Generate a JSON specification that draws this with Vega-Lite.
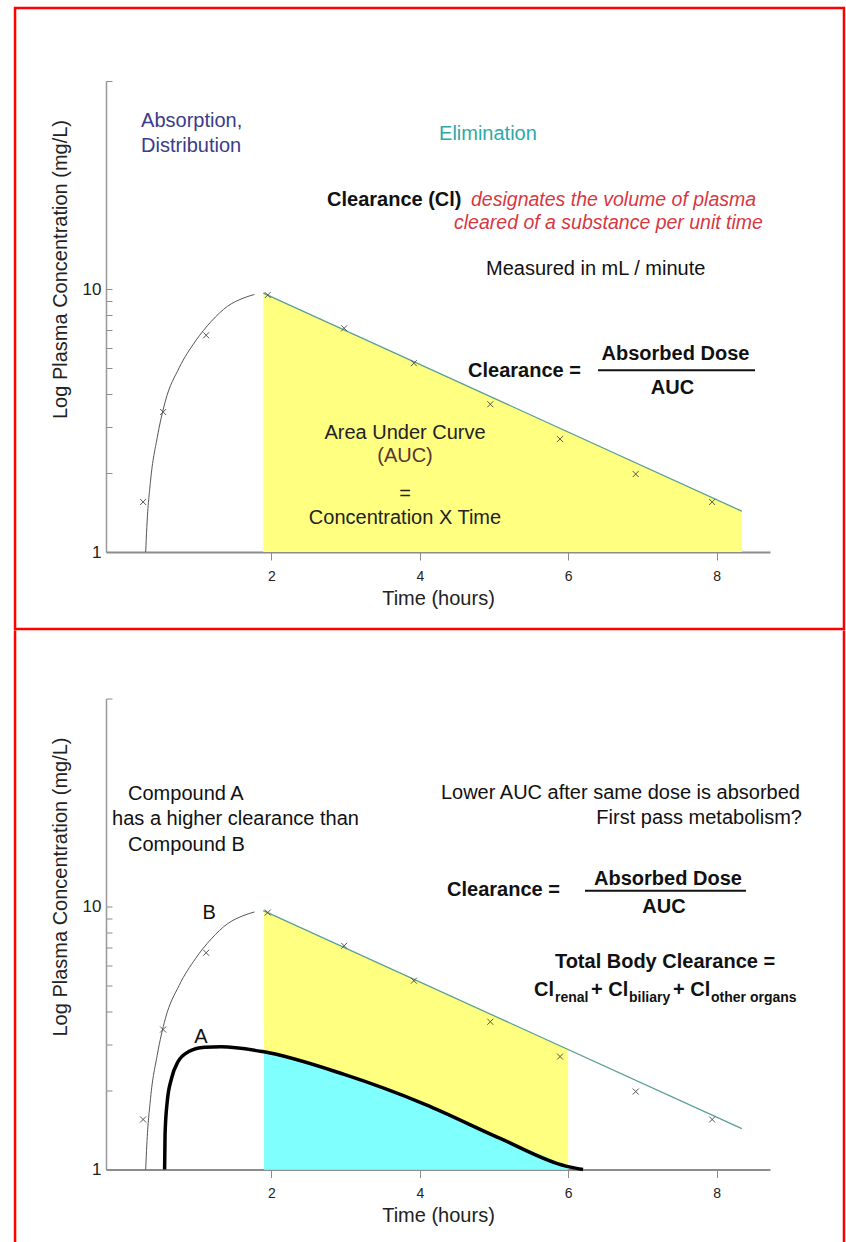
{
  "$schema": "https://vega.github.io/schema/vega-lite/v6.json",
  "background": "white",
  "padding": {"left": 13, "top": 6, "right": 0, "bottom": 0},
  "autosize": {"type": "pad"},
  "spacing": -2.5,
  "config": {
    "view": {"stroke": null},
    "font": "Liberation Sans",
    "axis": {
      "labelFont": "Liberation Sans",
      "titleFont": "Liberation Sans",
      "titleFontWeight": "normal",
      "labelColor": "#222",
      "titleColor": "#222",
      "domainColor": "#8c8c8c",
      "tickColor": "#8c8c8c",
      "grid": false,
      "zindex": 1
    }
  },
  "datasets": {
    "curveB": [
      {"t": 0.305, "c": 1.0}, {"t": 0.32, "c": 1.24}, {"t": 0.37, "c": 1.86},
      {"t": 0.46, "c": 2.72}, {"t": 0.57, "c": 3.75}, {"t": 0.756, "c": 5.02},
      {"t": 0.975, "c": 6.34}, {"t": 1.19, "c": 7.55}, {"t": 1.41, "c": 8.62},
      {"t": 1.63, "c": 9.27}, {"t": 1.77, "c": 9.55}
    ],
    "elimB": [{"t": 1.89, "c": 9.66}, {"t": 8.34, "c": 1.43}],
    "aucB": [{"t": 1.9, "c": 9.63}, {"t": 6.0, "c": 2.86}],
    "marksB": [
      {"t": 0.27, "c": 1.55}, {"t": 0.54, "c": 3.41}, {"t": 1.12, "c": 6.68},
      {"t": 1.95, "c": 9.5}, {"t": 2.98, "c": 7.1}, {"t": 3.92, "c": 5.23},
      {"t": 4.95, "c": 3.65}, {"t": 5.89, "c": 2.69}, {"t": 6.91, "c": 1.98},
      {"t": 7.94, "c": 1.55}
    ],
    "curveA": [
      {"t": 0.56, "c": 1.0}, {"t": 0.566, "c": 1.36}, {"t": 0.595, "c": 1.81},
      {"t": 0.653, "c": 2.22}, {"t": 0.74, "c": 2.57}, {"t": 0.886, "c": 2.81},
      {"t": 1.1, "c": 2.92}, {"t": 1.32, "c": 2.93}, {"t": 1.88, "c": 2.81},
      {"t": 2.98, "c": 2.3}, {"t": 4.07, "c": 1.77}, {"t": 5.09, "c": 1.31},
      {"t": 5.97, "c": 1.03}, {"t": 6.2, "c": 1.0}
    ],
    "aucA": [
      {"t": 1.9, "c": 2.8}, {"t": 2.98, "c": 2.3}, {"t": 4.07, "c": 1.77},
      {"t": 5.09, "c": 1.31}, {"t": 5.97, "c": 1.03}, {"t": 6.0, "c": 1.02}
    ],
    "notesTop": [
      {"t": 0.243, "c": 43.5, "text": "Absorption,", "role": "phaseA"},
      {"t": 0.243, "c": 35.0, "text": "Distribution", "role": "phaseA"},
      {"t": 4.259, "c": 38.9, "text": "Elimination", "role": "phaseE"},
      {"t": 2.749, "c": 21.8, "text": "Clearance (Cl)", "role": "term"},
      {"t": 4.69, "c": 21.8, "text": "designates the volume of plasma", "role": "definition"},
      {"t": 4.461, "c": 17.8, "text": "cleared of a substance per unit time", "role": "definition"},
      {"t": 4.892, "c": 11.9, "text": "Measured in  mL / minute", "role": "note"},
      {"t": 4.65, "c": 4.88, "text": "Clearance =", "role": "term"},
      {"t": 7.446, "c": 5.66, "text": "Absorbed Dose", "role": "formula"},
      {"t": 7.406, "c": 4.2, "text": "AUC", "role": "formula"},
      {"t": 3.8, "c": 2.835, "text": "Area Under Curve", "role": "area"},
      {"t": 3.8, "c": 2.317, "text": "(AUC)", "role": "areaAbbr"},
      {"t": 3.8, "c": 1.662, "text": "=", "role": "area"},
      {"t": 3.8, "c": 1.347, "text": "Concentration X Time", "role": "area"}
    ],
    "notesBottom": [
      {"t": 0.067, "c": 26.9, "text": "Compound A", "role": "note"},
      {"t": -0.148, "c": 21.6, "text": "has a higher clearance than", "role": "note"},
      {"t": 0.067, "c": 17.2, "text": "Compound B", "role": "note"},
      {"t": 9.124, "c": 27.1, "text": "Lower AUC after same dose is absorbed", "role": "noteR"},
      {"t": 9.151, "c": 21.8, "text": "First pass metabolism?", "role": "noteR"},
      {"t": 4.367, "c": 11.6, "text": "Clearance =", "role": "term"},
      {"t": 7.345, "c": 12.8, "text": "Absorbed Dose", "role": "formula"},
      {"t": 7.291, "c": 10.0, "text": "AUC", "role": "formula"},
      {"t": 7.305, "c": 6.18, "text": "Total Body Clearance =", "role": "formula"},
      {"t": 5.539, "c": 4.84, "text": "Cl", "role": "term"},
      {"t": 5.822, "c": 4.51, "text": "renal", "role": "sub"},
      {"t": 6.307, "c": 4.84, "text": "+ Cl", "role": "term"},
      {"t": 6.819, "c": 4.51, "text": "biliary", "role": "sub"},
      {"t": 7.412, "c": 4.84, "text": "+ Cl", "role": "term"},
      {"t": 7.925, "c": 4.51, "text": "other organs", "role": "sub"},
      {"t": 1.159, "c": 9.49, "text": "B", "role": "curve"},
      {"t": 1.051, "c": 3.2, "text": "A", "role": "curve"}
    ]
  },
  "vconcat": [
    {
      "width": 664,
      "height": 471,
      "layer": [
        {
          "data": {"name": "elimB"},
          "mark": {"type": "area", "color": "#ffff80", "opacity": 1},
          "encoding": {
            "x": {"field": "t", "type": "quantitative", "scale": {"domain": [-0.23, 8.72], "nice": false, "zero": false},
                  "axis": {"values": [2, 4, 6, 8], "format": "d", "title": "Time (hours)", "titleFontSize": 20, "titlePadding": 5, "labelFontSize": 14, "tickSize": 8, "labelPadding": 9, "domainWidth": 2, "labelOverlap": false}},
            "y": {"field": "c", "type": "quantitative", "scale": {"type": "log", "domain": [1, 62], "nice": false},
                  "axis": {"values": [1, 2, 3, 4, 5, 6, 7, 8, 9, 10, 62], "format": "~g", "labelExpr": "datum.value == 1 || datum.value == 10 ? datum.label : ''", "labelOverlap": false, "title": "Log Plasma Concentration (mg/L)", "titleFontSize": 20, "titlePadding": 12, "titleY": 188, "labelFontSize": 17, "tickSize": -6, "labelPadding": 11, "domainWidth": 1.5, "domainColor": "#999"}},
            "y2": {"datum": 1}
          }
        },
        {
          "data": {"name": "curveB"},
          "mark": {"type": "line", "interpolate": "monotone", "color": "#555", "strokeWidth": 1},
          "encoding": {
            "x": {"field": "t", "type": "quantitative", "scale": {"domain": [-0.23, 8.72], "nice": false, "zero": false}},
            "y": {"field": "c", "type": "quantitative", "scale": {"type": "log", "domain": [1, 62], "nice": false}}
          }
        },
        {
          "data": {"name": "elimB"},
          "mark": {"type": "line", "color": "#5a9f96", "strokeWidth": 1.3},
          "encoding": {
            "x": {"field": "t", "type": "quantitative", "scale": {"domain": [-0.23, 8.72], "nice": false, "zero": false}},
            "y": {"field": "c", "type": "quantitative", "scale": {"type": "log", "domain": [1, 62], "nice": false}}
          }
        },
        {
          "data": {"name": "marksB"},
          "mark": {"type": "point", "shape": "M-1,-1L1,1M-1,1L1,-1", "size": 36, "filled": false, "color": "#555", "strokeWidth": 1, "opacity": 1},
          "encoding": {
            "x": {"field": "t", "type": "quantitative", "scale": {"domain": [-0.23, 8.72], "nice": false, "zero": false}},
            "y": {"field": "c", "type": "quantitative", "scale": {"type": "log", "domain": [1, 62], "nice": false}}
          }
        },
        {
          "data": {"name": "notesTop"},
          "transform": [{"filter": "datum.role === 'phaseA'"}],
          "mark": {"type": "text", "align": "left", "baseline": "middle", "fontSize": 20, "color": "#3b3b8a"},
          "encoding": {
            "x": {"field": "t", "type": "quantitative", "scale": {"domain": [-0.23, 8.72], "nice": false, "zero": false}},
            "y": {"field": "c", "type": "quantitative", "scale": {"type": "log", "domain": [1, 62], "nice": false}},
            "text": {"field": "text"}
          }
        },
        {
          "data": {"name": "notesTop"},
          "transform": [{"filter": "datum.role === 'phaseE'"}],
          "mark": {"type": "text", "align": "left", "baseline": "middle", "fontSize": 20, "color": "#2fa8a8"},
          "encoding": {
            "x": {"field": "t", "type": "quantitative", "scale": {"domain": [-0.23, 8.72], "nice": false, "zero": false}},
            "y": {"field": "c", "type": "quantitative", "scale": {"type": "log", "domain": [1, 62], "nice": false}},
            "text": {"field": "text"}
          }
        },
        {
          "data": {"name": "notesTop"},
          "transform": [{"filter": "datum.role === 'term'"}],
          "mark": {"type": "text", "align": "left", "baseline": "middle", "fontSize": 20, "fontWeight": "bold", "color": "#111"},
          "encoding": {
            "x": {"field": "t", "type": "quantitative", "scale": {"domain": [-0.23, 8.72], "nice": false, "zero": false}},
            "y": {"field": "c", "type": "quantitative", "scale": {"type": "log", "domain": [1, 62], "nice": false}},
            "text": {"field": "text"}
          }
        },
        {
          "data": {"name": "notesTop"},
          "transform": [{"filter": "datum.role === 'definition'"}],
          "mark": {"type": "text", "align": "left", "baseline": "middle", "fontSize": 19.5, "fontStyle": "italic", "color": "#d8383f"},
          "encoding": {
            "x": {"field": "t", "type": "quantitative", "scale": {"domain": [-0.23, 8.72], "nice": false, "zero": false}},
            "y": {"field": "c", "type": "quantitative", "scale": {"type": "log", "domain": [1, 62], "nice": false}},
            "text": {"field": "text"}
          }
        },
        {
          "data": {"name": "notesTop"},
          "transform": [{"filter": "datum.role === 'note'"}],
          "mark": {"type": "text", "align": "left", "baseline": "middle", "fontSize": 20, "color": "#111"},
          "encoding": {
            "x": {"field": "t", "type": "quantitative", "scale": {"domain": [-0.23, 8.72], "nice": false, "zero": false}},
            "y": {"field": "c", "type": "quantitative", "scale": {"type": "log", "domain": [1, 62], "nice": false}},
            "text": {"field": "text"}
          }
        },
        {
          "data": {"name": "notesTop"},
          "transform": [{"filter": "datum.role === 'formula'"}],
          "mark": {"type": "text", "align": "center", "baseline": "middle", "fontSize": 20, "fontWeight": "bold", "color": "#111"},
          "encoding": {
            "x": {"field": "t", "type": "quantitative", "scale": {"domain": [-0.23, 8.72], "nice": false, "zero": false}},
            "y": {"field": "c", "type": "quantitative", "scale": {"type": "log", "domain": [1, 62], "nice": false}},
            "text": {"field": "text"}
          }
        },
        {
          "data": {"name": "notesTop"},
          "transform": [{"filter": "datum.role === 'area'"}],
          "mark": {"type": "text", "align": "center", "baseline": "middle", "fontSize": 20, "color": "#222"},
          "encoding": {
            "x": {"field": "t", "type": "quantitative", "scale": {"domain": [-0.23, 8.72], "nice": false, "zero": false}},
            "y": {"field": "c", "type": "quantitative", "scale": {"type": "log", "domain": [1, 62], "nice": false}},
            "text": {"field": "text"}
          }
        },
        {
          "data": {"name": "notesTop"},
          "transform": [{"filter": "datum.role === 'areaAbbr'"}],
          "mark": {"type": "text", "align": "center", "baseline": "middle", "fontSize": 20, "color": "#5a3434"},
          "encoding": {
            "x": {"field": "t", "type": "quantitative", "scale": {"domain": [-0.23, 8.72], "nice": false, "zero": false}},
            "y": {"field": "c", "type": "quantitative", "scale": {"type": "log", "domain": [1, 62], "nice": false}},
            "text": {"field": "text"}
          }
        },
        {
          "data": {"values": [{}]},
          "mark": {"type": "rule", "color": "#111", "strokeWidth": 2},
          "encoding": {
            "x": {"datum": 6.402, "type": "quantitative", "scale": {"domain": [-0.23, 8.72], "nice": false, "zero": false}},
            "x2": {"datum": 8.518},
            "y": {"datum": 4.92, "type": "quantitative", "scale": {"type": "log", "domain": [1, 62], "nice": false}}
          }
        },
        {
          "data": {"values": [{}]},
          "mark": {"type": "rect", "filled": false, "color": "#ff0000", "strokeWidth": 2.5},
          "encoding": {
            "x": {"datum": -1.456, "type": "quantitative", "scale": {"domain": [-0.23, 8.72], "nice": false, "zero": false}},
            "x2": {"datum": 9.717},
            "y": {"datum": 117.5, "type": "quantitative", "scale": {"type": "log", "domain": [1, 62], "nice": false}},
            "y2": {"datum": 0.5094}
          }
        }
      ]
    },
    {
      "width": 664,
      "height": 471,
      "layer": [
        {
          "data": {"name": "aucB"},
          "mark": {"type": "area", "color": "#ffff80", "opacity": 1},
          "encoding": {
            "x": {"field": "t", "type": "quantitative", "scale": {"domain": [-0.23, 8.72], "nice": false, "zero": false},
                  "axis": {"values": [2, 4, 6, 8], "format": "d", "title": "Time (hours)", "titleFontSize": 20, "titlePadding": 5, "labelFontSize": 14, "tickSize": 8, "labelPadding": 9, "domainWidth": 2, "labelOverlap": false}},
            "y": {"field": "c", "type": "quantitative", "scale": {"type": "log", "domain": [1, 62], "nice": false},
                  "axis": {"values": [1, 2, 3, 4, 5, 6, 7, 8, 9, 10, 62], "format": "~g", "labelExpr": "datum.value == 1 || datum.value == 10 ? datum.label : ''", "labelOverlap": false, "title": "Log Plasma Concentration (mg/L)", "titleFontSize": 20, "titlePadding": 12, "titleY": 188, "labelFontSize": 17, "tickSize": -6, "labelPadding": 11, "domainWidth": 1.5, "domainColor": "#999"}},
            "y2": {"datum": 1}
          }
        },
        {
          "data": {"name": "aucA"},
          "mark": {"type": "area", "interpolate": "monotone", "color": "#80ffff", "opacity": 1},
          "encoding": {
            "x": {"field": "t", "type": "quantitative", "scale": {"domain": [-0.23, 8.72], "nice": false, "zero": false}},
            "y": {"field": "c", "type": "quantitative", "scale": {"type": "log", "domain": [1, 62], "nice": false}},
            "y2": {"datum": 1}
          }
        },
        {
          "data": {"name": "curveB"},
          "mark": {"type": "line", "interpolate": "monotone", "color": "#555", "strokeWidth": 1},
          "encoding": {
            "x": {"field": "t", "type": "quantitative", "scale": {"domain": [-0.23, 8.72], "nice": false, "zero": false}},
            "y": {"field": "c", "type": "quantitative", "scale": {"type": "log", "domain": [1, 62], "nice": false}}
          }
        },
        {
          "data": {"name": "elimB"},
          "mark": {"type": "line", "color": "#5a9f96", "strokeWidth": 1.3},
          "encoding": {
            "x": {"field": "t", "type": "quantitative", "scale": {"domain": [-0.23, 8.72], "nice": false, "zero": false}},
            "y": {"field": "c", "type": "quantitative", "scale": {"type": "log", "domain": [1, 62], "nice": false}}
          }
        },
        {
          "data": {"name": "curveA"},
          "mark": {"type": "line", "interpolate": "monotone", "color": "#000", "strokeWidth": 3.5},
          "encoding": {
            "x": {"field": "t", "type": "quantitative", "scale": {"domain": [-0.23, 8.72], "nice": false, "zero": false}},
            "y": {"field": "c", "type": "quantitative", "scale": {"type": "log", "domain": [1, 62], "nice": false}}
          }
        },
        {
          "data": {"name": "marksB"},
          "mark": {"type": "point", "shape": "M-1,-1L1,1M-1,1L1,-1", "size": 36, "filled": false, "color": "#555", "strokeWidth": 1, "opacity": 1},
          "encoding": {
            "x": {"field": "t", "type": "quantitative", "scale": {"domain": [-0.23, 8.72], "nice": false, "zero": false}},
            "y": {"field": "c", "type": "quantitative", "scale": {"type": "log", "domain": [1, 62], "nice": false}}
          }
        },
        {
          "data": {"name": "notesBottom"},
          "transform": [{"filter": "datum.role === 'note'"}],
          "mark": {"type": "text", "align": "left", "baseline": "middle", "fontSize": 20, "color": "#111"},
          "encoding": {
            "x": {"field": "t", "type": "quantitative", "scale": {"domain": [-0.23, 8.72], "nice": false, "zero": false}},
            "y": {"field": "c", "type": "quantitative", "scale": {"type": "log", "domain": [1, 62], "nice": false}},
            "text": {"field": "text"}
          }
        },
        {
          "data": {"name": "notesBottom"},
          "transform": [{"filter": "datum.role === 'noteR'"}],
          "mark": {"type": "text", "align": "right", "baseline": "middle", "fontSize": 20, "color": "#111"},
          "encoding": {
            "x": {"field": "t", "type": "quantitative", "scale": {"domain": [-0.23, 8.72], "nice": false, "zero": false}},
            "y": {"field": "c", "type": "quantitative", "scale": {"type": "log", "domain": [1, 62], "nice": false}},
            "text": {"field": "text"}
          }
        },
        {
          "data": {"name": "notesBottom"},
          "transform": [{"filter": "datum.role === 'term'"}],
          "mark": {"type": "text", "align": "left", "baseline": "middle", "fontSize": 20, "fontWeight": "bold", "color": "#111"},
          "encoding": {
            "x": {"field": "t", "type": "quantitative", "scale": {"domain": [-0.23, 8.72], "nice": false, "zero": false}},
            "y": {"field": "c", "type": "quantitative", "scale": {"type": "log", "domain": [1, 62], "nice": false}},
            "text": {"field": "text"}
          }
        },
        {
          "data": {"name": "notesBottom"},
          "transform": [{"filter": "datum.role === 'formula'"}],
          "mark": {"type": "text", "align": "center", "baseline": "middle", "fontSize": 20, "fontWeight": "bold", "color": "#111"},
          "encoding": {
            "x": {"field": "t", "type": "quantitative", "scale": {"domain": [-0.23, 8.72], "nice": false, "zero": false}},
            "y": {"field": "c", "type": "quantitative", "scale": {"type": "log", "domain": [1, 62], "nice": false}},
            "text": {"field": "text"}
          }
        },
        {
          "data": {"name": "notesBottom"},
          "transform": [{"filter": "datum.role === 'sub'"}],
          "mark": {"type": "text", "align": "left", "baseline": "middle", "fontSize": 14, "fontWeight": "bold", "color": "#111"},
          "encoding": {
            "x": {"field": "t", "type": "quantitative", "scale": {"domain": [-0.23, 8.72], "nice": false, "zero": false}},
            "y": {"field": "c", "type": "quantitative", "scale": {"type": "log", "domain": [1, 62], "nice": false}},
            "text": {"field": "text"}
          }
        },
        {
          "data": {"name": "notesBottom"},
          "transform": [{"filter": "datum.role === 'curve'"}],
          "mark": {"type": "text", "align": "center", "baseline": "middle", "fontSize": 20, "color": "#111"},
          "encoding": {
            "x": {"field": "t", "type": "quantitative", "scale": {"domain": [-0.23, 8.72], "nice": false, "zero": false}},
            "y": {"field": "c", "type": "quantitative", "scale": {"type": "log", "domain": [1, 62], "nice": false}},
            "text": {"field": "text"}
          }
        },
        {
          "data": {"values": [{}]},
          "mark": {"type": "rule", "color": "#111", "strokeWidth": 2},
          "encoding": {
            "x": {"datum": 6.226, "type": "quantitative", "scale": {"domain": [-0.23, 8.72], "nice": false, "zero": false}},
            "x2": {"datum": 8.396},
            "y": {"datum": 11.5, "type": "quantitative", "scale": {"type": "log", "domain": [1, 62], "nice": false}}
          }
        },
        {
          "data": {"values": [{"side": -1.456}, {"side": 9.717}]},
          "mark": {"type": "rule", "color": "#ff0000", "strokeWidth": 2.5},
          "encoding": {
            "x": {"field": "side", "type": "quantitative", "scale": {"domain": [-0.23, 8.72], "nice": false, "zero": false}},
            "y": {"datum": 112.4, "type": "quantitative", "scale": {"type": "log", "domain": [1, 62], "nice": false}},
            "y2": {"datum": 0.5233}
          }
        }
      ]
    }
  ]
}
